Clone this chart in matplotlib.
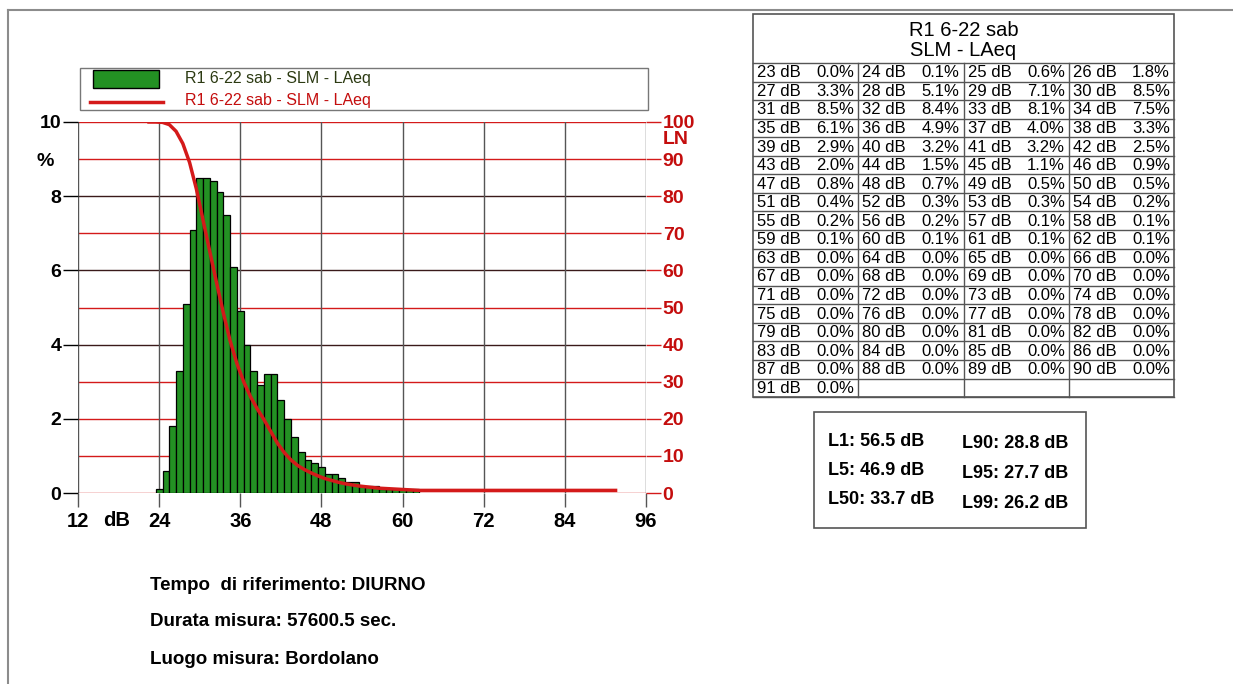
import numpy as np
import matplotlib
matplotlib.use("Agg")
import matplotlib.pyplot as plt
from matplotlib.patches import Rectangle

plt.rcParams['font.family'] = ['Liberation Sans', 'DejaVu Sans']

livelli = np.arange(23, 92)
percentuali = np.array([
    0.0, 0.1, 0.6, 1.8, 3.3, 5.1, 7.1, 8.5, 8.5, 8.4, 8.1, 7.5,
    6.1, 4.9, 4.0, 3.3, 2.9, 3.2, 3.2, 2.5, 2.0, 1.5, 1.1, 0.9,
    0.8, 0.7, 0.5, 0.5, 0.4, 0.3, 0.3, 0.2, 0.2, 0.2, 0.1, 0.1,
    0.1, 0.1, 0.1, 0.1, 0.0, 0.0, 0.0, 0.0, 0.0, 0.0, 0.0, 0.0,
    0.0, 0.0, 0.0, 0.0, 0.0, 0.0, 0.0, 0.0, 0.0, 0.0, 0.0, 0.0,
    0.0, 0.0, 0.0, 0.0, 0.0, 0.0, 0.0, 0.0, 0.0,
])
tick_x = [12, 24, 36, 48, 60, 72, 84, 96]
tick_sx = [0, 2, 4, 6, 8, 10]
tick_dx = [0, 10, 20, 30, 40, 50, 60, 70, 80, 90, 100]
stat_sx = [("L1", 56.5), ("L5", 46.9), ("L50", 33.7)]
stat_dx = [("L90", 28.8), ("L95", 27.7), ("L99", 26.2)]
titolo = "R1 6-22 sab"
sottotitolo = "SLM - LAeq"
serie = "R1 6-22 sab - SLM - LAeq"
info = ["Tempo  di riferimento: DIURNO",
        "Durata misura: 57600.5 sec.",
        "Luogo misura: Bordolano"]

VERDE = '#239123'
ROSSO = '#d41a1a'
ROSSO_TXT = '#c40d0d'

fig = plt.figure(figsize=(12.33, 6.84), dpi=100)

# livello "pagina" in coordinate pixel
pag = fig.add_axes([0, 0, 1, 1])
pag.set_xlim(0, 1233)
pag.set_ylim(684, 0)
pag.axis('off')
pag.plot([8, 1233], [10, 10], color='#8c8c8c', lw=1.5)
pag.plot([8, 8], [10, 684], color='#8c8c8c', lw=1.5)

# legenda
pag.add_patch(Rectangle((80, 68), 568, 42, fill=False, ec='#777777', lw=1))
pag.add_patch(Rectangle((93, 70), 66, 18, fc=VERDE, ec='black', lw=1))
pag.plot([90, 163], [102, 102], color=ROSSO, lw=2.5)
pag.text(185, 78, serie, fontsize=11.5, color='#2c3a12', va='center')
pag.text(185, 100, serie, fontsize=11.5, color=ROSSO_TXT, va='center')

# etichette assi extra
pag.text(45, 161, "%", fontsize=14, fontweight='bold', ha='center', va='center')
pag.text(117, 521, "dB", fontsize=14.5, fontweight='bold', ha='center', va='center')
pag.text(663, 139, "LN", fontsize=14, fontweight='bold', color=ROSSO_TXT,
         ha='left', va='center')

# testi in basso
for i, riga in enumerate(info):
    pag.text(150, 585 + i * 37, riga, fontsize=13.5, fontweight='bold', va='center')

# tabella
t_sx, t_dx, t_top, t_head = 753, 1174, 14, 63
h_riga = 18.56
n_righe = int(np.ceil(len(livelli) / 4))
t_bot = t_head + n_righe * h_riga
larg = (t_dx - t_sx) / 4
pag.add_patch(Rectangle((t_sx, t_top), t_dx - t_sx, t_bot - t_top, fill=False,
                        ec='#555555', lw=1.2))
pag.text((t_sx + t_dx) / 2, 30, titolo, fontsize=14.5, ha='center', va='center')
pag.text((t_sx + t_dx) / 2, 51, sottotitolo, fontsize=14.5, ha='center', va='center')
for r in range(n_righe + 1):
    y = t_head + r * h_riga
    pag.plot([t_sx, t_dx], [y, y], color='#555555', lw=1)
for c in range(1, 4):
    x = t_sx + c * larg
    pag.plot([x, x], [t_head, t_bot], color='#555555', lw=1)
for k, (liv, p) in enumerate(zip(livelli, percentuali)):
    r, c = divmod(k, 4)
    y = t_head + (r + 0.5) * h_riga + 0.5
    x0 = t_sx + c * larg
    pag.text(x0 + 4, y, f"{liv} dB", fontsize=12, va='center')
    pag.text(x0 + larg - 4, y, f"{p:.1f}%", fontsize=12, va='center', ha='right')

# riquadro livelli percentili
pag.add_patch(Rectangle((814, 412), 272, 116, fill=False, ec='#555555', lw=1.2))
for i, (nome, val) in enumerate(stat_sx):
    pag.text(828, 441 + i * 29.5, f"{nome}: {val} dB", fontsize=13,
             fontweight='bold', va='center')
for i, (nome, val) in enumerate(stat_dx):
    pag.text(962, 443 + i * 30, f"{nome}: {val} dB", fontsize=13,
             fontweight='bold', va='center')

# grafico
ax = fig.add_axes([78 / 1233, 1 - 493 / 684, 568 / 1233, 371 / 684])
ax.set_xlim(12, 96)
ax.set_ylim(0, 10)
ax.patch.set_alpha(0)
for s in ax.spines.values():
    s.set_visible(False)

for v in range(0, 11):
    col = '#3a1a1a' if v in (4, 6, 8) else ROSSO
    ax.axhline(v, color=col, lw=1, zorder=0)
for x in tick_x:
    ax.axvline(x, color='#555555', lw=1, zorder=0)

mask = percentuali > 0
ax.bar(livelli[mask], percentuali[mask], width=1.0, color=VERDE,
       edgecolor='black', linewidth=0.9, zorder=2)

ax.set_xticks(tick_x)
ax.set_xticklabels([str(x) for x in tick_x])
ax.set_yticks(tick_sx)
ax.set_yticklabels([str(v) for v in tick_sx])
ax.tick_params(axis='x', length=10, width=1, color='#555555', pad=4, labelsize=14.5)
ax.tick_params(axis='y', length=11, width=1, color='black', pad=1, labelsize=14)
for lab in ax.get_xticklabels() + ax.get_yticklabels():
    lab.set_fontweight('bold')

ax2 = ax.twinx()
ax2.set_ylim(0, 100)
for s in ax2.spines.values():
    s.set_visible(False)
ax2.set_yticks(tick_dx)
ax2.set_yticklabels([str(v) for v in tick_dx])
ax2.tick_params(axis='y', length=11, width=1, color=ROSSO, pad=1,
                labelsize=14, labelcolor=ROSSO_TXT)
for lab in ax2.get_yticklabels():
    lab.set_fontweight('bold')

# curva LN: percentuale di tempo in cui il livello viene superato
bordi = np.concatenate([[livelli[0] - 0.5], livelli + 0.5])
ln = 100 - np.concatenate([[0], np.cumsum(percentuali)])
ax2.plot(bordi, ln, color=ROSSO, lw=2.5, solid_joinstyle='round', zorder=3)

fig.savefig("out.png", dpi=100)
